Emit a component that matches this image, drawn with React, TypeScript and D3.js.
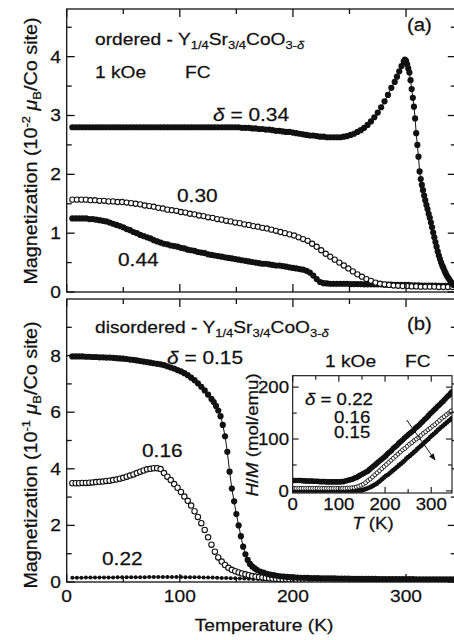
import React from "react";
import * as d3 from "d3";

const FONT = "'Liberation Sans', Arial, Helvetica, sans-serif";
const SX = 1.13;

type P = [number, number];

// ---------- Panel (a): ordered, units 1e-2 muB/Co ----------
const ordered034: P[] = [
  [5,2.80],[8,2.80],[11,2.80],[14,2.80],[17,2.80],[20,2.80],[23,2.80],[26,2.80],[29,2.80],[32,2.80],
  [35,2.80],[38,2.80],[41,2.80],[44,2.80],[47,2.80],[50,2.80],[53,2.80],[56,2.80],[59,2.80],[62,2.80],
  [65,2.80],[68,2.80],[71,2.80],[74,2.80],[77,2.80],[80,2.80],[83,2.80],[86,2.80],[89,2.80],[92,2.80],
  [95,2.80],[98,2.80],[101,2.80],[104,2.80],[107,2.80],[110,2.80],[113,2.80],[116,2.80],[119,2.80],[122,2.80],
  [125,2.80],[128,2.80],[131,2.80],[134,2.80],[137,2.80],[140,2.80],[143,2.80],[146,2.80],[149,2.80],[152,2.80],
  [155,2.79],[158,2.79],[161,2.79],[164,2.78],[167,2.78],[170,2.77],[173,2.77],[176,2.76],[179,2.76],[182,2.75],
  [185,2.74],[188,2.74],[191,2.73],[194,2.72],[197,2.72],[200,2.71],[203,2.70],[206,2.69],[209,2.68],[212,2.67],
  [215,2.66],[218,2.66],[221,2.65],[224,2.64],[227,2.64],[230,2.63],[233,2.63],[236,2.63],[239,2.63],[242,2.63],
  [245,2.64],[248,2.65],[251,2.67],[254,2.69],[257,2.72],[260,2.75],[263,2.79],[266,2.84],[269,2.90],[272,2.97],
  [275,3.05],[278,3.14],[281,3.24],[284,3.35],[287,3.47],[290,3.57],[292,3.66],[294,3.75],[296,3.84],[298,3.92],
  [299,3.95],[300,3.93],[301,3.87],[302,3.80],[303,3.73],[304,3.60],[305,3.45],[306,3.30],[307,3.15],[308,2.95],
  [309,2.70],[310,2.50],[311,2.30],[312,2.05],[313,1.92],[314,1.82],[315,1.73],[316,1.64],[317,1.56],[318,1.48],
  [319,1.41],[320,1.33],[321,1.26],[322,1.18],[323,1.10],[324,1.01],[325,0.93],[326,0.85],[327,0.77],[328,0.69],
  [329,0.62],[330,0.56],[331,0.50],[332,0.45],[333,0.41],[334,0.36],[335,0.32],[336,0.28],[337,0.25],[338,0.22],
  [339,0.19],[340,0.16],[341,0.14],[342,0.12],[343,0.11],
];

const ordered030: P[] = [
  [5,1.57],[9,1.57],[13,1.57],[17,1.57],[21,1.56],[25,1.56],[29,1.55],[33,1.55],[37,1.54],[41,1.54],
  [45,1.53],[49,1.53],[53,1.52],[57,1.51],[61,1.50],[65,1.49],[69,1.47],[73,1.46],[77,1.45],[81,1.43],
  [85,1.42],[89,1.40],[93,1.39],[97,1.38],[101,1.36],[105,1.35],[109,1.33],[113,1.32],[117,1.30],[121,1.29],
  [125,1.27],[129,1.26],[133,1.24],[137,1.23],[141,1.21],[145,1.20],[149,1.18],[153,1.17],[157,1.15],[161,1.14],
  [165,1.12],[169,1.11],[173,1.09],[177,1.08],[181,1.06],[185,1.04],[189,1.02],[193,1.00],[197,0.98],[201,0.96],
  [205,0.93],[209,0.90],[213,0.87],[217,0.82],[221,0.77],[225,0.71],[229,0.65],[233,0.60],[237,0.55],[241,0.50],
  [245,0.45],[249,0.40],[253,0.35],[257,0.30],[261,0.26],[265,0.22],[269,0.19],[273,0.16],[277,0.14],[281,0.13],
  [285,0.12],[289,0.11],[293,0.105],[297,0.10],[301,0.10],[305,0.095],[309,0.095],[313,0.09],[317,0.09],[321,0.09],
  [325,0.09],[329,0.085],[333,0.085],[337,0.085],[341,0.085],
];

const ordered044: P[] = [
  [5,1.25],[8,1.25],[11,1.25],[14,1.25],[17,1.25],[20,1.24],[23,1.24],[26,1.23],[29,1.22],[32,1.21],
  [35,1.20],[38,1.18],[41,1.16],[44,1.14],[47,1.12],[50,1.10],[53,1.07],[56,1.05],[59,1.02],[62,1.00],
  [65,0.97],[68,0.95],[71,0.93],[74,0.91],[77,0.88],[80,0.86],[83,0.84],[86,0.82],[89,0.81],[92,0.79],
  [95,0.78],[98,0.77],[101,0.75],[104,0.74],[107,0.72],[110,0.71],[113,0.70],[116,0.68],[119,0.67],[122,0.66],
  [125,0.64],[128,0.63],[131,0.62],[134,0.61],[137,0.60],[140,0.59],[143,0.58],[146,0.57],[149,0.56],[152,0.55],
  [155,0.54],[158,0.53],[161,0.52],[164,0.51],[167,0.50],[170,0.49],[173,0.48],[176,0.48],[179,0.47],[182,0.46],
  [185,0.45],[188,0.45],[191,0.44],[194,0.43],[197,0.42],[200,0.41],[203,0.40],[206,0.39],[209,0.38],[212,0.36],
  [215,0.33],[218,0.28],[221,0.22],[224,0.17],[227,0.15],[230,0.145],[233,0.14],[236,0.14],[239,0.14],[242,0.14],
  [245,0.14],[248,0.14],[251,0.135],[254,0.135],[257,0.135],[260,0.135],[263,0.13],[266,0.13],[269,0.13],[272,0.13],
  [275,0.13],[278,0.13],[281,0.125],[284,0.125],[287,0.125],[290,0.12],[293,0.12],[296,0.12],[299,0.12],[302,0.12],
  [305,0.115],[308,0.115],[311,0.115],[314,0.11],[317,0.11],[320,0.11],[323,0.11],[326,0.11],[329,0.105],[332,0.105],
  [335,0.105],[338,0.10],[341,0.10],
];

// ---------- Panel (b): disordered, units 1e-1 muB/Co ----------
const disordered015: P[] = [
  [5,7.97],[8,7.97],[11,7.97],[14,7.97],[17,7.96],[20,7.96],[23,7.95],[26,7.95],[29,7.94],[32,7.94],
  [35,7.93],[38,7.93],[41,7.92],[44,7.91],[47,7.90],[50,7.89],[53,7.88],[56,7.86],[59,7.85],[62,7.83],
  [65,7.81],[68,7.79],[71,7.77],[74,7.75],[77,7.73],[80,7.71],[83,7.69],[86,7.66],[89,7.62],[92,7.58],
  [95,7.54],[98,7.49],[101,7.44],[104,7.38],[107,7.31],[110,7.22],[113,7.13],[116,7.02],[119,6.90],[122,6.77],
  [125,6.62],[128,6.47],[130,6.36],[132,6.22],[134,6.06],[136,5.86],[138,5.55],[140,5.15],[142,4.60],[144,3.90],
  [146,3.30],[148,2.85],[150,2.40],[152,2.00],[154,1.62],[156,1.25],[158,0.98],[160,0.78],[162,0.64],[164,0.55],
  [166,0.49],[168,0.43],[171,0.37],[174,0.33],[177,0.29],[180,0.26],[183,0.24],[186,0.22],[189,0.20],[192,0.19],
  [195,0.18],[198,0.17],[201,0.16],[204,0.155],[207,0.15],[210,0.15],[213,0.145],[216,0.14],[219,0.14],[222,0.135],
  [225,0.13],[228,0.13],[231,0.13],[234,0.125],[237,0.125],[240,0.12],[243,0.12],[246,0.12],[249,0.12],[252,0.115],
  [255,0.115],[258,0.115],[261,0.11],[264,0.11],[267,0.11],[270,0.11],[273,0.11],[276,0.105],[279,0.105],[282,0.105],
  [285,0.10],[288,0.10],[291,0.10],[294,0.10],[297,0.10],[300,0.10],[303,0.10],[306,0.10],[309,0.095],[312,0.095],
  [315,0.095],[318,0.095],[321,0.095],[324,0.09],[327,0.09],[330,0.09],[333,0.09],[336,0.09],[339,0.09],[342,0.09],
];

const disordered016: P[] = [
  [5,3.49],[8,3.49],[11,3.49],[14,3.50],[17,3.50],[20,3.51],[23,3.52],[26,3.53],[29,3.54],[32,3.55],
  [35,3.57],[38,3.58],[41,3.60],[44,3.62],[47,3.65],[50,3.68],[53,3.72],[56,3.76],[59,3.80],[62,3.85],
  [65,3.90],[68,3.94],[71,3.98],[74,4.00],[77,4.02],[80,4.02],[83,3.99],[86,3.85],[89,3.72],[92,3.60],
  [95,3.46],[98,3.33],[101,3.18],[104,3.02],[107,2.87],[110,2.70],[113,2.50],[116,2.30],[119,2.08],[122,1.84],
  [125,1.58],[128,1.32],[131,1.07],[134,0.87],[137,0.72],[140,0.60],[143,0.50],[146,0.43],[149,0.38],[152,0.34],
  [155,0.30],[158,0.27],[161,0.24],[164,0.21],[167,0.19],[170,0.17],[173,0.16],[176,0.145],[179,0.13],[182,0.12],
  [185,0.11],[188,0.10],[191,0.09],[194,0.085],[197,0.08],[200,0.08],[203,0.075],[206,0.075],[209,0.07],[212,0.07],
];

const disordered022: P[] = [
  [5,0.15],[9,0.15],[13,0.15],[17,0.155],[21,0.155],[25,0.155],[29,0.16],[33,0.16],[37,0.16],[41,0.16],
  [45,0.165],[49,0.165],[53,0.165],[57,0.17],[61,0.17],[65,0.17],[69,0.17],[73,0.175],[77,0.175],[81,0.175],
  [85,0.175],[89,0.175],[93,0.175],[97,0.175],[101,0.175],[105,0.17],[109,0.17],[113,0.17],[117,0.165],[121,0.16],
  [125,0.16],[129,0.155],[133,0.15],[137,0.145],[141,0.14],[145,0.135],[149,0.13],[153,0.125],[157,0.12],[161,0.115],
  [165,0.11],[169,0.105],[173,0.10],[177,0.10],[181,0.095],[185,0.095],[189,0.09],[193,0.09],[197,0.09],[201,0.085],
  [205,0.085],[209,0.085],[213,0.085],[217,0.08],[221,0.08],[225,0.08],[229,0.08],[233,0.08],[237,0.08],[241,0.08],
  [245,0.08],[249,0.08],[253,0.08],[257,0.08],[261,0.08],[265,0.08],[269,0.08],[273,0.08],[277,0.08],[281,0.08],
  [285,0.08],[289,0.08],[293,0.08],[297,0.08],[301,0.08],[305,0.08],[309,0.08],[313,0.08],[317,0.08],[321,0.08],
  [325,0.08],[329,0.08],[333,0.08],[337,0.08],[341,0.08],
];

// ---------- Inset: H/M (mol/emu) ----------
const inset022: P[] = [
  [2,20],[6,20],[10,20],[14,20],[18,20],[22,19.5],[26,19.5],[30,19],[34,19],[38,19],[42,19],[46,18.5],[50,18.5],
  [54,18.5],[58,18],[62,18],[66,18],[70,18],[74,17.5],[78,17.5],[82,17.5],[86,17.5],[90,17.5],[94,17.5],[98,17.5],
  [102,17.5],[106,18],[110,18],[114,19],[118,20],[122,21],[126,22],[130,23],[134,25],[138,26],[142,28],[146,30],
  [150,32],[154,34],[158,36],[162,38],[166,41],[170,44],[174,47],[178,50],[182,53],[186,56],[190,59],[194,62],
  [198,65],[202,68],[206,72],[210,75],[214,78],[218,82],[222,85],[226,88],[230,92],[234,95],[238,98],[242,102],
  [246,105],[250,108],[254,111],[258,114],[262,117],[266,121],[270,124],[274,127],[278,131],[282,134],[286,138],
  [290,141],[294,145],[298,149],[302,152],[306,156],[310,159],[314,163],[318,166],[322,170],[326,173],[330,177],
  [334,181],[338,184],[342,188],[345,191],
];

const inset016: P[] = [
  [3,5],[8,5],[13,5],[18,5],[23,5],[28,5],[33,5],[38,5],[43,5],[48,5],[53,5],[58,5],[63,5],[68,5],
  [73,5],[78,5],[83,5],[88,5],[93,5],[98,5],[103,5],[108,5],[113,5],[118,5.5],[123,5.5],[128,6],[133,6.5],
  [138,7.5],[143,9],[148,11],[153,13],[158,16],[163,20],[168,23],[173,27],[178,31],[183,35],[188,39],[193,43],
  [198,47],[203,51],[208,55],[213,59],[218,63],[223,67],[228,71],[233,75],[238,79],[243,82],[248,86],[253,90],
  [258,93],[263,97],[268,100],[273,103],[278,107],[283,111],[288,114],[293,118],[298,121],[303,125],[308,128],
  [313,132],[318,136],[323,140],[328,143],[333,147],[338,150],[343,154],
];

const inset015: P[] = [
  [2,1],[6,1],[10,1],[14,1],[18,1],[22,1],[26,1],[30,1],[34,1],[38,1],[42,1],[46,1],[50,1],[54,1],
  [58,1],[62,1],[66,1],[70,1],[74,1],[78,1],[82,1],[86,1],[90,1],[94,1],[98,1],[102,1],[106,1],[110,1],
  [114,1],[118,1],[122,1],[126,1],[130,1],[134,1],[138,1],[142,1],[146,1.2],[150,1.5],[154,2.5],[158,3.5],
  [162,5],[166,6.5],[170,8],[174,10],[178,12],[182,14],[186,17],[190,20],[194,23],[198,26],[202,29],[206,31],
  [210,34],[214,37],[218,40],[222,43],[226,46],[230,49],[234,52],[238,55],[242,58],[246,62],[250,65],[254,68],
  [258,71],[262,74],[266,77],[270,81],[274,84],[278,87],[282,90],[286,94],[290,97],[294,100],[298,104],[302,107],
  [306,110],[310,113],[314,117],[318,120],[322,123],[326,126],[330,129],[334,132],[338,135],[342,138],[345,140],
];

// ---------- Ticks ----------
const xMajor = [0, 100, 200, 300];
const xMinor = [50, 150, 250, 350];
const topYMajor = [0, 1, 2, 3, 4];
const topYMinor = [0.5, 1.5, 2.5, 3.5, 4.5];
const botYMajor = [0, 2, 4, 6, 8];
const botYMinor = [1, 3, 5, 7, 9];
const insetXMajor = [0, 100, 200, 300];
const insetXMinor = [50, 150, 250];
const insetYMajor = [0, 100, 200];
const insetYMinor = [50, 150];

// ---------- Scales ----------
const xMain = d3.scaleLinear().domain([0, 344]).range([66.7, 455.8]);
const yTop = d3.scaleLinear().domain([0, 4.81]).range([292, 9]);
const yBot = d3.scaleLinear().domain([0, 10]).range([582, 299]);
const xIn = d3.scaleLinear().domain([0, 345]).range([292.7, 452]);
const yIn = d3.scaleLinear().domain([-4, 222]).range([493, 375.7]);

type Sc = d3.ScaleLinear<number, number>;

function Txt(props: {
  x: number; y: number; size?: number; anchor?: string; rotate?: number;
  children: React.ReactNode;
}) {
  const { x, y, size = 17, anchor = "start", rotate = 0, children } = props;
  return (
    <text
      transform={`translate(${x},${y}) rotate(${rotate}) scale(${SX},1)`}
      fontSize={size}
      fontFamily={FONT}
      textAnchor={anchor as any}
      fill="#111"
      stroke="#111"
      strokeWidth={0.25}
    >
      {children}
    </text>
  );
}

function Frame(props: {
  xs: Sc; ys: Sc; xMaj: number[]; xMin: number[]; yMaj: number[]; yMin: number[];
  maj: number; min: number; sw?: number;
}) {
  const { xs, ys, xMaj, xMin, yMaj, yMin, maj, min, sw = 1.3 } = props;
  const [x0, x1] = xs.range();
  const [y1, y0] = ys.range();
  const lines: React.ReactNode[] = [];
  const add = (a: number, b: number, c: number, d: number, k: string) =>
    lines.push(<line key={k} x1={a} y1={b} x2={c} y2={d} stroke="#111" strokeWidth={sw} />);
  xMaj.forEach((t, i) => {
    const x = xs(t);
    add(x, y1, x, y1 - maj, "xb" + i);
    add(x, y0, x, y0 + maj, "xt" + i);
  });
  xMin.forEach((t, i) => {
    const x = xs(t);
    add(x, y1, x, y1 - min, "xbm" + i);
    add(x, y0, x, y0 + min, "xtm" + i);
  });
  yMaj.forEach((t, i) => {
    const y = ys(t);
    add(x0, y, x0 + maj, y, "yl" + i);
    add(x1, y, x1 - maj, y, "yr" + i);
  });
  yMin.forEach((t, i) => {
    const y = ys(t);
    add(x0, y, x0 + min, y, "ylm" + i);
    add(x1, y, x1 - min, y, "yrm" + i);
  });
  return (
    <g>
      <rect x={x0} y={y0} width={x1 - x0} height={y1 - y0} fill="none" stroke="#111" strokeWidth={sw} />
      {lines}
    </g>
  );
}

function Series(props: {
  data: P[]; xs: Sc; ys: Sc; r: number; open?: boolean; line?: boolean; sw?: number;
}) {
  const { data, xs, ys, r, open = false, line = false, sw = 1.1 } = props;
  const path = d3.line<P>().x((d) => xs(d[0])).y((d) => ys(d[1]))(data) || "";
  return (
    <g>
      {line && <path d={path} fill="none" stroke="#111" strokeWidth={1} />}
      {data.map((d, i) => (
        <circle
          key={i}
          cx={xs(d[0])}
          cy={ys(d[1])}
          r={r}
          fill={open ? "#fff" : "#111"}
          stroke="#111"
          strokeWidth={open ? sw : 0}
        />
      ))}
    </g>
  );
}

const Formula = () => (
  <>
    Y<tspan fontSize={11.5} dy={4}>1/4</tspan>
    <tspan dy={-4}>Sr</tspan>
    <tspan fontSize={11.5} dy={4}>3/4</tspan>
    <tspan dy={-4}>CoO</tspan>
    <tspan fontSize={11.5} dy={4}>3-</tspan>
    <tspan fontSize={11.5} fontStyle="italic">δ</tspan>
  </>
);

const YLabel = ({ exp }: { exp: string }) => (
  <>
    Magnetization (10<tspan fontSize={11.5} dy={-7}>{exp}</tspan>
    <tspan dy={7}> </tspan>
    <tspan fontStyle="italic">μ</tspan>
    <tspan fontSize={11.5} dy={4}>B</tspan>
    <tspan dy={-4}>/Co site)</tspan>
  </>
);

const Delta = () => <tspan fontStyle="italic">δ</tspan>;

export default function App() {
  return (
    <svg
      width={454}
      height={640}
      viewBox="0 0 454 640"
      style={{ position: "absolute", left: 0, top: 0, background: "#fff" }}
    >
      <defs>
        <clipPath id="clipTop">
          <rect x={66.7} y={9} width={390} height={283} />
        </clipPath>
        <clipPath id="clipBot">
          <rect x={66.7} y={299} width={390} height={283} />
        </clipPath>
        <clipPath id="clipIn">
          <rect x={292.7} y={375.7} width={159.3} height={117.3} />
        </clipPath>
        <marker id="arrow" viewBox="0 0 10 10" refX={9} refY={5} markerWidth={7} markerHeight={7} orient="auto">
          <path d="M0,1 L10,5 L0,9 z" fill="#111" />
        </marker>
      </defs>

      {/* Panel (a) */}
      <g clipPath="url(#clipTop)">
        <Series data={ordered044} xs={xMain} ys={yTop} r={3.1} />
        <Series data={ordered030} xs={xMain} ys={yTop} r={2.6} open />
        <Series data={ordered034} xs={xMain} ys={yTop} r={3.1} line />
      </g>
      <Frame xs={xMain} ys={yTop} xMaj={xMajor} xMin={xMinor} yMaj={topYMajor} yMin={topYMinor} maj={8} min={5} />
      {topYMajor.map((t) => (
        <Txt key={"ta" + t} x={61} y={yTop(t) + 6} anchor="end">{t}</Txt>
      ))}
      <Txt x={95} y={45}>ordered - <Formula /></Txt>
      <Txt x={95} y={78}>1 kOe</Txt>
      <Txt x={185} y={78}>FC</Txt>
      <Txt x={407} y={31} size={18}>(a)</Txt>
      <Txt x={213} y={121} size={18.5}><Delta /> = 0.34</Txt>
      <Txt x={177} y={202} size={18.5}>0.30</Txt>
      <Txt x={118} y={266} size={18.5}>0.44</Txt>
      <Txt x={37} y={151} rotate={-90} anchor="middle" size={17.5}><YLabel exp="-2" /></Txt>

      {/* Panel (b) */}
      <g clipPath="url(#clipBot)">
        <Series data={disordered022} xs={xMain} ys={yBot} r={2} line />
        <Series data={disordered016} xs={xMain} ys={yBot} r={2.7} open />
        <Series data={disordered015} xs={xMain} ys={yBot} r={3.1} line />
      </g>
      <Frame xs={xMain} ys={yBot} xMaj={xMajor} xMin={xMinor} yMaj={botYMajor} yMin={botYMinor} maj={8} min={5} />
      {botYMajor.map((t) => (
        <Txt key={"tb" + t} x={61} y={yBot(t) + 6} anchor="end">{t}</Txt>
      ))}
      {xMajor.map((t) => (
        <Txt key={"tx" + t} x={xMain(t)} y={602} anchor="middle">{t}</Txt>
      ))}
      <Txt x={264} y={631} anchor="middle">Temperature (K)</Txt>
      <Txt x={37} y={455} rotate={-90} anchor="middle" size={17.5}><YLabel exp="-1" /></Txt>
      <Txt x={95} y={333}>disordered - <Formula /></Txt>
      <Txt x={407} y={330} size={18}>(b)</Txt>
      <Txt x={167} y={364} size={18.5}><Delta /> = 0.15</Txt>
      <Txt x={325} y={367}>1 kOe</Txt>
      <Txt x={405} y={367}>FC</Txt>
      <Txt x={142} y={457} size={18.5}>0.16</Txt>
      <Txt x={102} y={565} size={18.5}>0.22</Txt>

      {/* Inset */}
      <rect x={292.7} y={375.7} width={159.3} height={117.3} fill="#fff" />
      <g clipPath="url(#clipIn)">
        <Series data={inset015} xs={xIn} ys={yIn} r={2.4} />
        <Series data={inset016} xs={xIn} ys={yIn} r={2} open sw={0.9} />
        <Series data={inset022} xs={xIn} ys={yIn} r={2.8} />
      </g>
      <Frame xs={xIn} ys={yIn} xMaj={insetXMajor} xMin={insetXMinor} yMaj={insetYMajor} yMin={insetYMinor} maj={6} min={4} sw={1.1} />
      <line x1={406.7} y1={420} x2={435} y2={460} stroke="#111" strokeWidth={1} markerEnd="url(#arrow)" />
      {insetYMajor.map((t) => (
        <Txt key={"iy" + t} x={289} y={yIn(t) + 6} anchor="end" size={16.5}>{t}</Txt>
      ))}
      {insetXMajor.map((t) => (
        <Txt key={"ix" + t} x={xIn(t)} y={510} anchor="middle" size={16.5}>{t}</Txt>
      ))}
      <Txt x={373} y={529} anchor="middle" size={16.5}><tspan fontStyle="italic">T</tspan> (K)</Txt>
      <Txt x={258} y={435} rotate={-90} anchor="middle" size={16.5}>
        <tspan fontStyle="italic">H</tspan>/<tspan fontStyle="italic">M</tspan> (mol/emu)
      </Txt>
      <Txt x={305} y={405} size={16.5}><Delta /> = 0.22</Txt>
      <Txt x={334} y={423} size={16.5}>0.16</Txt>
      <Txt x={334} y={438} size={16.5}>0.15</Txt>
    </svg>
  );
}
